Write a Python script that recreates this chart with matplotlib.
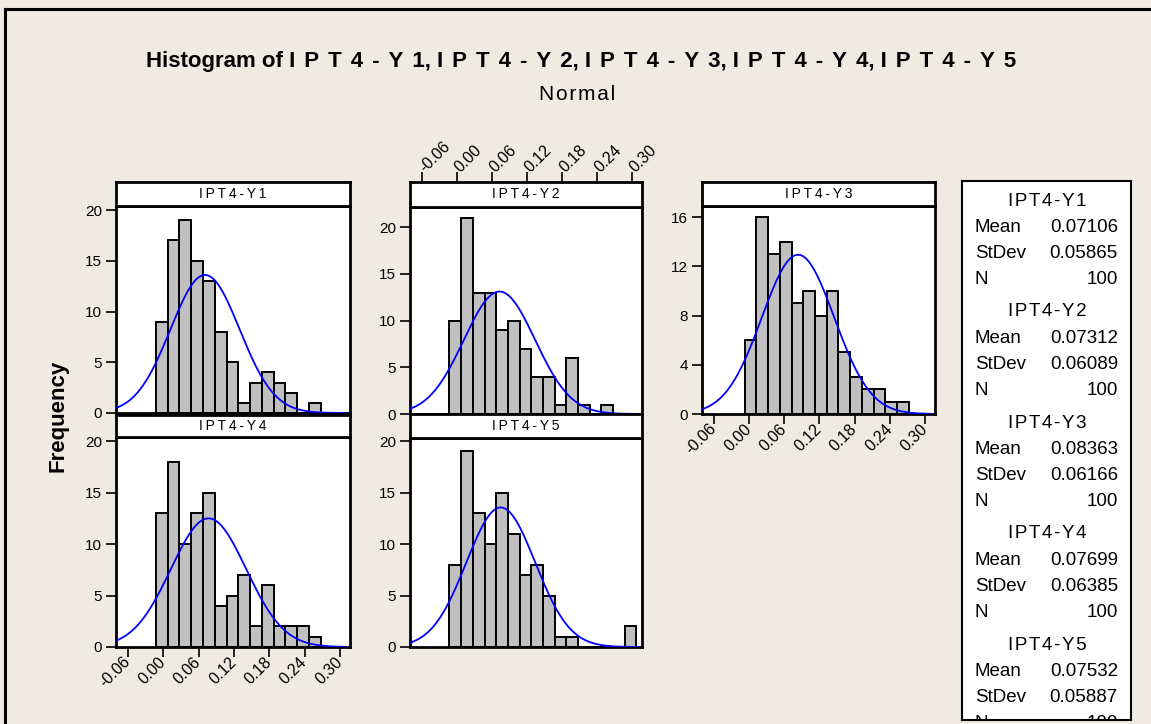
import numpy as np
import matplotlib
matplotlib.use("Agg")
import matplotlib.pyplot as plt

plt.rcParams['font.family'] = ['Liberation Sans', 'DejaVu Sans']

# histogram data (bin width 0.02, N = 100 each)
names = ['IPT4-Y1', 'IPT4-Y2', 'IPT4-Y3', 'IPT4-Y4', 'IPT4-Y5']
means = [0.07106, 0.07312, 0.08363, 0.07699, 0.07532]
stdevs = [0.05865, 0.06089, 0.06166, 0.06385, 0.05887]
n_obs = [100, 100, 100, 100, 100]
bin_width = 0.02
bin_start = [-0.0125, -0.0125, -0.0075, -0.0125, -0.0125]  # left edge of first bin
counts_y1 = [9, 17, 19, 15, 13, 8, 5, 1, 3, 4, 3, 2, 0, 1]
counts_y2 = [10, 21, 13, 13, 9, 10, 7, 4, 4, 1, 6, 1, 0, 1]
counts_y3 = [6, 16, 13, 14, 9, 10, 8, 10, 5, 3, 2, 2, 1, 1]
counts_y4 = [13, 18, 10, 13, 15, 4, 5, 7, 2, 6, 2, 2, 2, 1]
counts_y5 = [8, 19, 13, 10, 15, 11, 7, 8, 5, 1, 1, 0, 0, 0, 0, 2]
all_counts = [counts_y1, counts_y2, counts_y3, counts_y4, counts_y5]
x_ticks = [-0.06, 0.00, 0.06, 0.12, 0.18, 0.24, 0.30]
y_ticks = [[0, 5, 10, 15, 20], [0, 5, 10, 15, 20], [0, 4, 8, 12, 16],
           [0, 5, 10, 15, 20], [0, 5, 10, 15, 20]]
y_tops = [20.4, 22.15, 16.9, 20.4, 20.3]

W, H = 1151, 724
bg = '#EFEBE1'
fig = plt.figure(figsize=(W / 100, H / 100), dpi=100, facecolor=bg)

def px_axes(left, top, right, bottom):
    # axes from pixel box (origin top-left)
    return fig.add_axes([left / W, 1 - bottom / H, (right - left) / W, (bottom - top) / H])

def spaced(s, sp='\u2009'):
    return sp.join(s)

def xtick_labels(ax, side):
    ax.set_xticks(x_ticks)
    ax.set_xticklabels(['%.2f' % v for v in x_ticks])
    ax.tick_params(axis='x', direction='out', length=7, width=1.2, labelsize=11.5, pad=2)
    for t in ax.get_xticklabels():
        t.set_rotation(45)
        t.set_ha('right' if side == 'bottom' else 'left')
        t.set_va('center')
        t.set_rotation_mode('anchor')

# outer frame (top and left only are visible)
fig.add_artist(plt.Line2D([5 / W, 1], [1 - 9 / H, 1 - 9 / H], color='black', lw=2.2))
fig.add_artist(plt.Line2D([5 / W, 5 / W], [0, 1 - 9 / H], color='black', lw=2.2))

title = 'Histogram of ' + ', '.join(spaced(n, '\u2009\u2009') for n in names)
fig.text(581 / W, 1 - 61 / H, title, ha='center', va='center', fontsize=16, fontweight='bold')
fig.text(577 / W, 1 - 94 / H, spaced('Normal', '\u200a'), ha='center', va='center', fontsize=15)
fig.text(58 / W, 1 - 416 / H, 'Frequency', ha='center', va='center',
         rotation=90, fontsize=16, fontweight='bold')

# pixel boxes: (left, strip top, plot top, right, bottom)
boxes = [(116, 182, 206, 350, 413),
         (410, 182, 207, 642, 414),
         (702, 182, 206, 935, 414),
         (116, 415, 437, 350, 647),
         (410, 414, 438, 642, 647)]
xtick_side = [None, 'top', 'bottom', 'bottom', None]

xs = np.linspace(-0.08, 0.31, 300)
for i, (l, st, pt, r, b) in enumerate(boxes):
    ax = px_axes(l, pt, r, b)
    ax.set_facecolor('white')
    counts = all_counts[i]
    centers = bin_start[i] + bin_width * (np.arange(len(counts)) + 0.5)
    ax.bar(centers, counts, width=bin_width, color='#C0C0C0',
           edgecolor='black', linewidth=1.4, zorder=2)
    curve = n_obs[i] * bin_width * np.exp(-0.5 * ((xs - means[i]) / stdevs[i]) ** 2) \
        / (stdevs[i] * np.sqrt(2 * np.pi))
    ax.plot(xs, curve, color='#0000FF', lw=1.3, zorder=3)
    ax.set_xlim(-0.08, 0.317)
    ax.set_ylim(0, y_tops[i])
    ax.set_yticks(y_ticks[i])
    ax.tick_params(axis='y', direction='out', length=7, width=1.2, labelsize=11, pad=3)
    for sp in ax.spines.values():
        sp.set_linewidth(2)
    if xtick_side[i] == 'bottom':
        xtick_labels(ax, 'bottom')
    else:
        ax.tick_params(axis='x', length=0, labelbottom=False)

    # strip with the variable name
    sax = px_axes(l, st, r, pt)
    sax.set_facecolor('white')
    sax.set_xlim(-0.08, 0.317)
    sax.set_yticks([])
    for sp in sax.spines.values():
        sp.set_linewidth(2)
    if xtick_side[i] == 'top':
        sax.xaxis.tick_top()
        xtick_labels(sax, 'top')
    else:
        sax.set_xticks([])
    sax.text(0.5, 0.5, spaced(names[i]), ha='center', va='center', fontsize=10,
             transform=sax.transAxes)

# statistics box on the right
lax = px_axes(962, 181, 1131, 720)
lax.set_facecolor('white')
lax.set_xticks([])
lax.set_yticks([])
for sp in lax.spines.values():
    sp.set_linewidth(1.5)
lax.set_xlim(962, 1131)
lax.set_ylim(720, 181)
for i in range(len(names)):
    y0 = 201 + 111 * i
    lax.text(1047, y0, spaced(names[i], '\u200a'), ha='center', va='center',
             fontsize=13.5, clip_on=True)
    rows = [('Mean', '%.5f' % means[i]), ('StDev', '%.5f' % stdevs[i]), ('N', str(n_obs[i]))]
    for j, (lab, val) in enumerate(rows):
        yy = y0 + 26.2 * (j + 1)
        lax.text(975, yy, lab, ha='left', va='center', fontsize=13.5, clip_on=True)
        lax.text(1118, yy, val, ha='right', va='center', fontsize=13.5, clip_on=True)

fig.savefig('out.png', dpi=100, facecolor=bg)
